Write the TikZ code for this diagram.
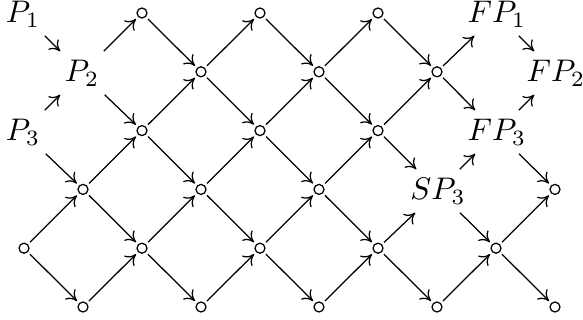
\documentclass[tikz,border=0pt]{standalone}
\usepackage{tikz}
\usetikzlibrary{arrows.meta}

\begin{document}
\begin{tikzpicture}[
        x=0.32pt, y=-0.32pt,
        vertex/.style={draw, circle, inner sep=0pt, minimum size=3.2pt, line width=0.4pt, outer sep=1.1pt},
        term/.style={inner sep=0.8pt, outer sep=2pt},
        link/.style={-{Computer Modern Rightarrow[length=3.2pt, width=4.6pt]}, line width=0.4pt}
    ]
        \useasboundingbox (0,0) rectangle (583,320);

        % labelled entries
        \node[term] (n00) at (23,14) {$P_1$};
        \node[term] (n11) at (82,73) {$P_2$};
        \node[term] (n20) at (23,132) {$P_3$};
        \node[term] (n08) at (497,14) {$FP_1$};
        \node[term] (n19) at (556,73) {$FP_2$};
        \node[term] (n28) at (497,132) {$FP_3$};
        \node[term] (n37) at (438,191) {$SP_3$};

        % plain circles
        \foreach \i/\j in {0/2,0/4,0/6, 1/3,1/5,1/7, 2/2,2/4,2/6,
                           3/1,3/3,3/5,3/9, 4/0,4/2,4/4,4/6,4/8,
                           5/1,5/3,5/5,5/7,5/9}
            \node[vertex] (n\i\j) at (24+59*\j, 13+58.8*\i) {};

        % arrows to the next column
        \foreach \i in {0,...,5}
            \foreach \j in {0,...,8} {
                \pgfmathtruncatemacro\ia{\i-1}
                \pgfmathtruncatemacro\ib{\i+1}
                \pgfmathtruncatemacro\jb{\j+1}
                \ifodd\numexpr\i+\j\relax\else
                    \ifnum\i>0 \draw[link] (n\i\j) -- (n\ia\jb);\fi
                    \ifnum\i<5 \draw[link] (n\i\j) -- (n\ib\jb);\fi
                \fi
            }
    \end{tikzpicture}
\end{document}
